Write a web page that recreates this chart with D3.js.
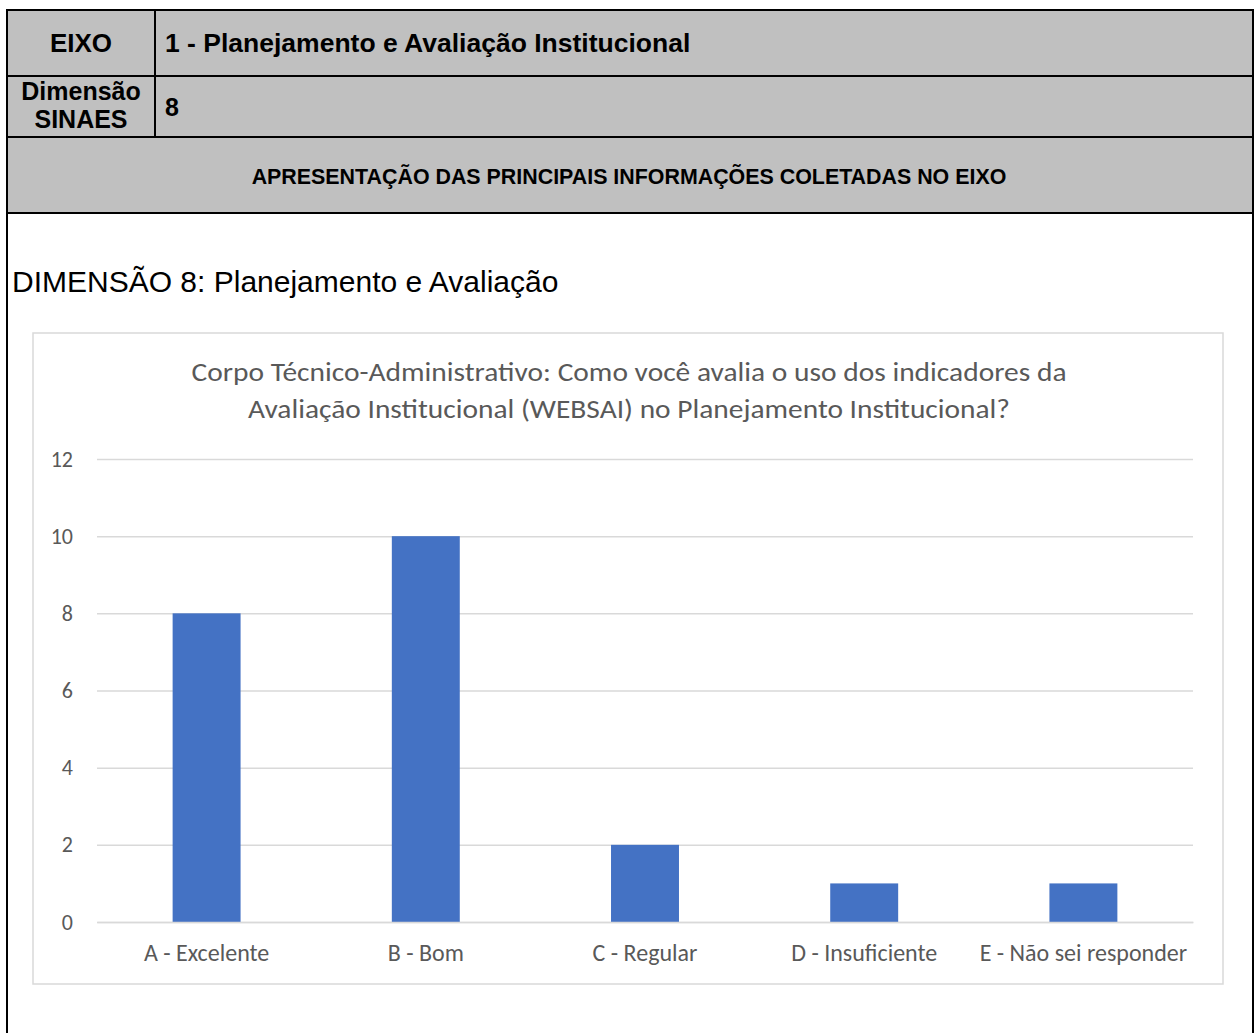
<!DOCTYPE html>
<html>
<head>
<meta charset="utf-8">
<script src="https://cdn.jsdelivr.net/npm/d3@7"></script>
<style>
  body { margin: 0; background: #fff; }
  svg text { font-family: Arial, "Liberation Sans", sans-serif; }
  .chart text { font-family: Carlito, Calibri, Lato, sans-serif; fill: #595959; }
</style>
</head>
<body>
<svg id="page" width="1256" height="1033"></svg>
<script>
// chart data
const categories = ["A - Excelente", "B - Bom", "C - Regular", "D - Insuficiente", "E - Não sei responder"];
const counts = [8, 10, 2, 1, 1];
const yTicks = [0, 2, 4, 6, 8, 10, 12];
const titleLines = [
  "Corpo Técnico-Administrativo: Como você avalia o uso dos indicadores da",
  "Avaliação Institucional (WEBSAI) no Planejamento Institucional?"
];

// header texts
const eixoLabel = "EIXO";
const eixoValue = "1 - Planejamento e Avaliação Institucional";
const dimLabel = ["Dimensão", "SINAES"];
const dimValue = "8";
const sectionTitle = "APRESENTAÇÃO DAS PRINCIPAIS INFORMAÇÕES COLETADAS NO EIXO";
const pageHeading = "DIMENSÃO 8: Planejamento e Avaliação";

const svg = d3.select("#page");
svg.append("rect").attr("width", 1256).attr("height", 1033).attr("fill", "#fff");

// ---- header table ----
const tLeft = 7, tRight = 1253, tCol = 155;
const rowY = [10, 76, 137, 213];

svg.append("rect")
  .attr("x", tLeft).attr("y", rowY[0])
  .attr("width", tRight - tLeft).attr("height", rowY[3] - rowY[0])
  .attr("fill", "#c0c0c0");

const table = svg.append("g").attr("stroke", "#000").attr("stroke-width", 2);
rowY.forEach(y => {
  table.append("line").attr("x1", tLeft).attr("x2", tRight).attr("y1", y).attr("y2", y);
});
table.append("line").attr("x1", tLeft).attr("x2", tLeft).attr("y1", rowY[0] - 1).attr("y2", 1033);
table.append("line").attr("x1", tRight).attr("x2", tRight).attr("y1", rowY[0] - 1).attr("y2", 1033);
table.append("line").attr("x1", tCol).attr("x2", tCol).attr("y1", rowY[0]).attr("y2", rowY[2]);

svg.append("text")
  .attr("x", (tLeft + tCol) / 2).attr("y", 52)
  .attr("text-anchor", "middle")
  .attr("font-size", 26).attr("font-weight", "bold")
  .text(eixoLabel);

svg.append("text")
  .attr("x", 165).attr("y", 52)
  .attr("font-size", 26.5).attr("font-weight", "bold")
  .text(eixoValue);

svg.append("text")
  .attr("text-anchor", "middle")
  .attr("font-size", 25).attr("font-weight", "bold")
  .selectAll("tspan")
  .data(dimLabel)
  .join("tspan")
  .attr("x", (tLeft + tCol) / 2)
  .attr("y", (d, i) => 100 + i * 28)
  .text(d => d);

svg.append("text")
  .attr("x", 165).attr("y", 116)
  .attr("font-size", 25).attr("font-weight", "bold")
  .text(dimValue);

svg.append("text")
  .attr("x", 629).attr("y", 184)
  .attr("text-anchor", "middle")
  .attr("font-size", 21.4).attr("font-weight", "bold")
  .text(sectionTitle);

svg.append("text")
  .attr("x", 12).attr("y", 292)
  .attr("font-size", 30)
  .text(pageHeading);

// ---- chart ----
const chart = svg.append("g").attr("class", "chart");

chart.append("rect")
  .attr("x", 33).attr("y", 333)
  .attr("width", 1190).attr("height", 651)
  .attr("fill", "#fff").attr("stroke", "#d9d9d9").attr("stroke-width", 1.5);

const titleWidths = [875, 762];
chart.selectAll("text.title")
  .data(titleLines)
  .join("text")
  .attr("class", "title")
  .attr("text-anchor", "middle")
  .attr("font-size", 27)
  .attr("x", 629)
  .attr("y", (d, i) => 381 + i * 37)
  .attr("textLength", (d, i) => titleWidths[i])
  .attr("lengthAdjust", "spacingAndGlyphs")
  .text(d => d);

const x = d3.scaleBand()
  .domain(categories)
  .range([97, 1193])
  .paddingInner(0.69)
  .paddingOuter(0.345);

const y = d3.scaleLinear()
  .domain([0, 12])
  .range([922, 459]);

const yAxis = chart.append("g")
  .attr("transform", "translate(97,0)")
  .call(d3.axisLeft(y).tickValues(yTicks).tickSize(-1096).tickPadding(24));
yAxis.select(".domain").remove();
yAxis.selectAll(".tick line").attr("stroke", "#d9d9d9").attr("stroke-width", 1.5);
yAxis.selectAll(".tick text").attr("font-size", 22).attr("fill", "#595959");

chart.selectAll("rect.bar")
  .data(counts)
  .join("rect")
  .attr("class", "bar")
  .attr("x", (d, i) => x(categories[i]))
  .attr("y", d => y(d))
  .attr("width", x.bandwidth())
  .attr("height", d => y(0) - y(d))
  .attr("fill", "#4472c4");

const xAxis = chart.append("g")
  .attr("transform", "translate(0,922)")
  .call(d3.axisBottom(x).tickSize(0).tickPadding(22));
xAxis.select(".domain").attr("stroke", "#d9d9d9").attr("stroke-width", 1.5);
xAxis.selectAll(".tick text").attr("font-size", 24).attr("fill", "#595959");
</script>
</body>
</html>
